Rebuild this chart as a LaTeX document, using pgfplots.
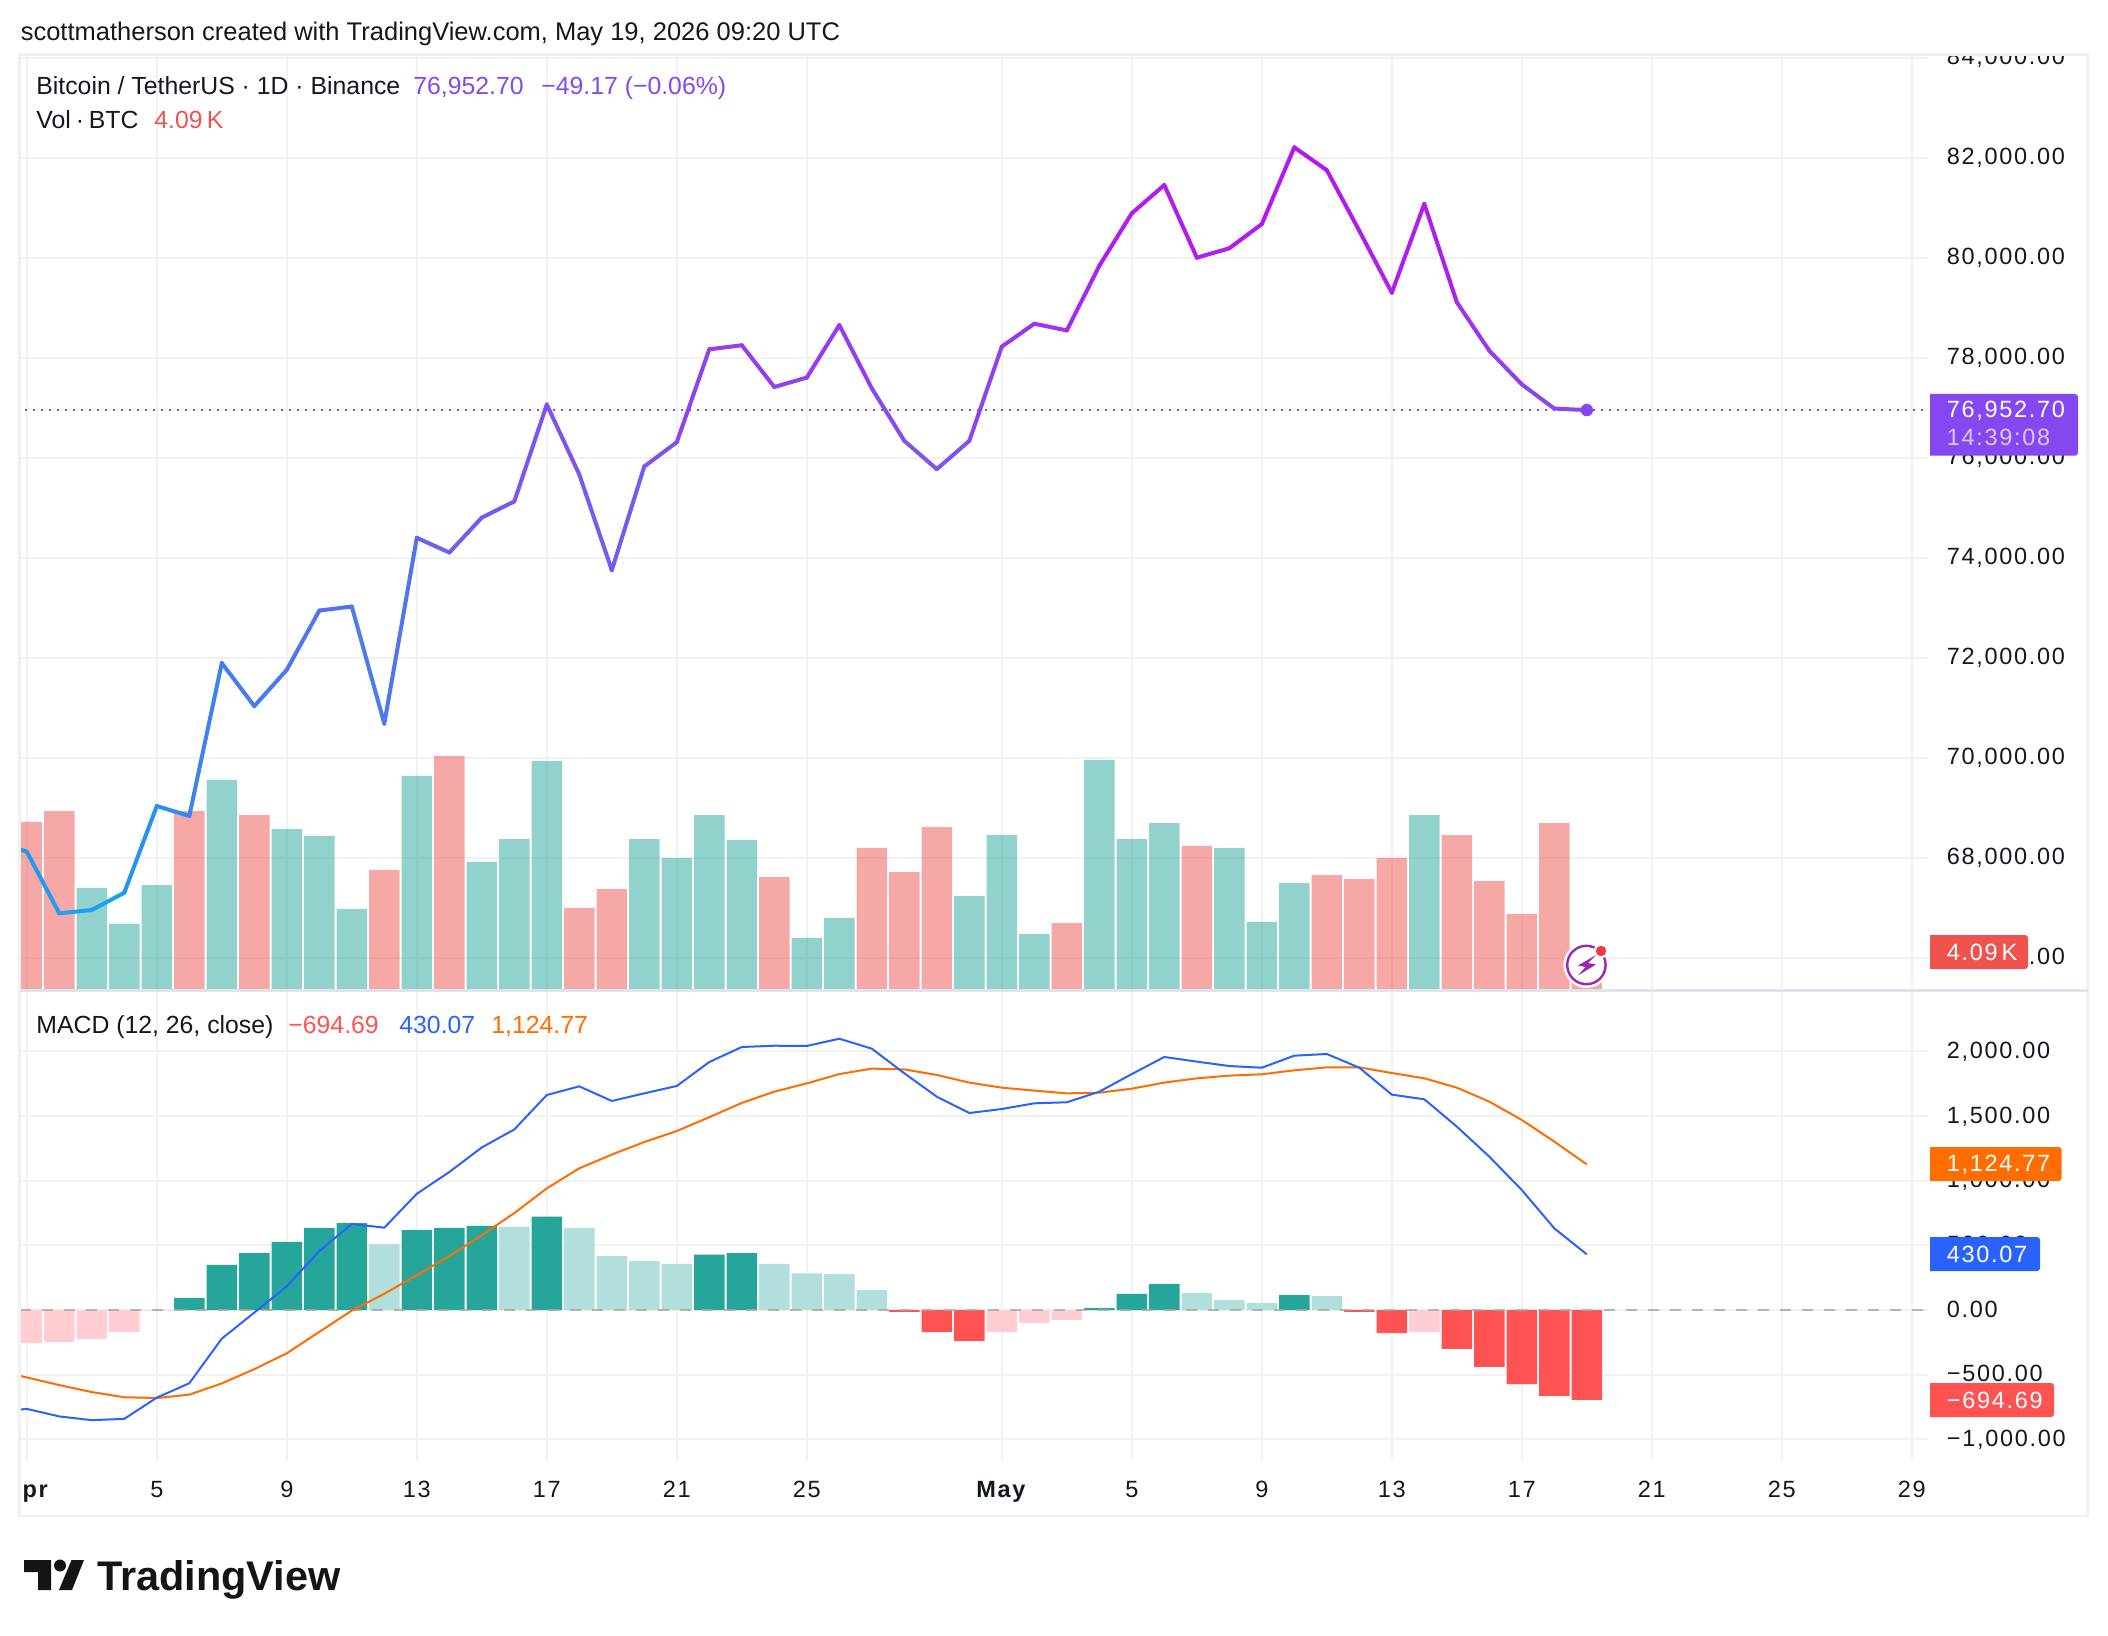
\documentclass[border=0pt]{standalone}
\usepackage{fontspec}
\setmainfont{Liberation Sans}
\newfontfamily\ax[LetterSpace=7.2]{Liberation Sans}
\usepackage{pgfplots}
\pgfplotsset{compat=1.18}
\definecolor{gridc}{HTML}{F1F1F2}
\definecolor{framec}{HTML}{F1F1F2}
\definecolor{sepc}{HTML}{E0E3EB}
\definecolor{tv}{HTML}{131722}
\definecolor{teal}{HTML}{26A69A}
\definecolor{lteal}{HTML}{B2DFDB}
\definecolor{rd}{HTML}{FF5252}
\definecolor{lrd}{HTML}{FFCDD2}
\definecolor{volr}{HTML}{EF5350}
\definecolor{mblue}{HTML}{2962FF}
\definecolor{morange}{HTML}{FF6D00}
\definecolor{endp}{HTML}{8548F0}
\definecolor{icon}{HTML}{9C27B0}
\definecolor{notif}{HTML}{F23645}
\pgfplotsset{
  paneaxis/.style={
    scale only axis, width=954pt,
    xmin=-0.2246, xmax=58.483,
    clip=true,
    scaled y ticks=false,
  },
  xticksall/.style={xtick={0,4,8,12,16,20,24,30,34,38,42,46,50,54,58}},
}
\begin{document}
\begin{tikzpicture}[x=0.5pt,y=-0.5pt]
\fill[white] (0,0) rectangle (2108,1636);
\useasboundingbox (0,0) rectangle (2108,1636);

% price pane: grid and price scale
\begin{axis}[paneaxis, at={(9.75pt,-495pt)}, anchor=south west, height=467.5pt,
  ymin=65354, ymax=84054, xticksall, xticklabels={},
  ytick={66000,68000,70000,72000,74000,76000,78000,80000,82000,84000},
  yticklabels={{66,000.00},{68,000.00},{70,000.00},{72,000.00},{74,000.00},{76,000.00},{78,000.00},{80,000.00},{82,000.00},{84,000.00}},
  yticklabel pos=right, major tick length=0pt,
  yticklabel style={anchor=base west, xshift=9.5pt, yshift=-3.6pt, inner sep=0pt, font=\ax\fontsize{11.75}{14}\selectfont, text=tv},
  grid=major, grid style={color=gridc, line width=1pt}, axis line style={draw=none}]
\end{axis}

% volume bars
\begin{axis}[paneaxis, at={(9.75pt,-495pt)}, anchor=south west, height=467.5pt,
  ymin=-0.65, ymax=607.1, hide axis]
\addplot[ybar, bar width=0.94, bar shift=0pt, draw=none, fill=volr, fill opacity=0.5] coordinates {
(0,108.6)(1,115.7)(5,115.7)(7,113.1)(11,77.4)(13,151.5)(17,52.7)(18,65)(23,72.8)
(26,91.7)(27,76)(28,105.3)(32,42.9)(36,93)(40,74.1)(41,71.5)(42,85.2)(44,100.1)(45,70.2)(46,48.8)(47,107.9)(48,4.09)};
\addplot[ybar, bar width=0.94, bar shift=0pt, draw=none, fill=teal, fill opacity=0.5] coordinates {
(2,65.7)(3,42.3)(4,67.6)(6,135.9)(8,104)(9,99.5)(10,52)(12,138.5)(14,82.6)(15,97.5)(16,148.2)
(19,97.5)(20,85.2)(21,113.1)(22,96.9)(24,33.2)(25,46.2)(29,60.5)(30,100.1)(31,35.8)(33,148.9)(34,97.5)(35,107.9)(37,91.7)(38,43.6)(39,68.9)(43,113.1)};
\end{axis}

% price line
\begin{axis}[paneaxis, at={(9.75pt,-495pt)}, anchor=south west, height=467.5pt,
  ymin=65354, ymax=84054, hide axis,
  colormap={btc}{rgb255(0)=(20,175,240) rgb255(20)=(35,150,240) rgb255(40)=(60,130,240) rgb255(60)=(75,122,240) rgb255(80)=(100,100,240) rgb255(100)=(125,85,240) rgb255(110)=(135,72,240) rgb255(120)=(150,60,240) rgb255(140)=(175,30,240) rgb255(160)=(185,20,240)},
  point meta min=66000, point meta max=82000]
\addplot[endp, line width=1pt, dash pattern=on 1pt off 3pt] coordinates {(-0.3,76952.7)(58.6,76952.7)};
\addplot[mesh, point meta=y, line width=2pt, line cap=round, line join=round] coordinates {
(-1,68330)(0,68120)(1,66888)(2,66954)(3,67300)(4,69034)(5,68834)(6,71893)(7,71031)(8,71758)(9,72943)
(10,73023)(11,70682)(12,74398)(13,74103)(14,74802)(15,75125)(16,77063)(17,75663)(18,73751)(19,75825)
(20,76310)(21,78168)(22,78249)(23,77414)(24,77603)(25,78653)(26,77387)(27,76337)(28,75771)(29,76337)
(30,78222)(31,78680)(32,78545)(33,79838)(34,80888)(35,81453)(36,80000)(37,80188)(38,80672)(39,82207)
(40,81749)(41,80537)(42,79300)(43,81076)(44,79110)(45,78140)(46,77467)(47,76982)(48,76952.7)};
\addplot[only marks, mark=*, mark size=2.9pt, color=endp] coordinates {(48,76952.7)};
\end{axis}

% MACD pane
\begin{axis}[paneaxis, at={(9.75pt,-729.8pt)}, anchor=south west, height=234.8pt,
  ymin=-1155.8, ymax=2472.4, xticksall,
  xticklabels={\textbf{Apr},5,9,13,17,21,25,\textbf{May},5,9,13,17,21,25,29},
  xticklabel style={anchor=base, yshift=-19pt, inner sep=0pt, font=\ax\fontsize{11.75}{14}\selectfont, text=tv},
  ytick={-1000,-500,0,500,1000,1500,2000},
  yticklabels={{−1,000.00},{−500.00},{0.00},{500.00},{1,000.00},{1,500.00},{2,000.00}},
  yticklabel pos=right, major tick length=0pt,
  yticklabel style={anchor=base west, xshift=9.5pt, yshift=-3.6pt, inner sep=0pt, font=\ax\fontsize{11.75}{14}\selectfont, text=tv},
  grid=major, grid style={color=gridc, line width=1pt}, axis line style={draw=none}]
\addplot[ybar, bar width=0.94, bar shift=0pt, draw=none, fill=lrd] coordinates {
(0,-255)(1,-246)(2,-223)(3,-168)(4,-5)(30,-170)(31,-100)(32,-77)(43,-170)};
\addplot[ybar, bar width=0.94, bar shift=0pt, draw=none, fill=rd] coordinates {
(27,-15)(28,-170)(29,-240)(41,-15)(42,-178)(44,-301)(45,-440)(46,-572)(47,-664)(48,-694.69)};
\addplot[ybar, bar width=0.94, bar shift=0pt, draw=none, fill=teal] coordinates {
(5,94)(6,349)(7,440)(8,527)(9,634)(10,672)(12,617)(13,634)(14,650)(16,721)(21,427)(22,440)(33,15)(34,124)(35,201)(39,116)};
\addplot[ybar, bar width=0.94, bar shift=0pt, draw=none, fill=lteal] coordinates {
(11,511)(15,643)(17,634)(18,417)(19,378)(20,356)(23,356)(24,283)(25,278)(26,155)(36,131)(37,77)(38,54)(40,108)};
\addplot[color=black!35, opacity=0.8, line width=0.8pt, dash pattern=on 5.5pt off 5.5pt] coordinates {(-0.2246,0)(58.483,0)};
\addplot[morange, line width=1pt, line join=round] coordinates {
(-1,-465)(0,-521)(1,-580)(2,-634)(3,-674)(4,-680)(5,-654)(6,-567)(7,-457)(8,-334)(9,-169)
(10,-4)(11,125)(12,270)(13,416)(14,578)(15,749)(16,940)(17,1095)(18,1201)(19,1298)
(20,1383)(21,1490)(22,1600)(23,1687)(24,1751)(25,1823)(26,1865)(27,1859)(28,1816)(29,1757)
(30,1718)(31,1695)(32,1674)(33,1679)(34,1710)(35,1757)(36,1790)(37,1811)(38,1821)(39,1852)
(40,1875)(41,1875)(42,1831)(43,1790)(44,1718)(45,1610)(46,1468)(47,1301)(48,1124.77)};
\addplot[mblue, line width=1pt, line join=round] coordinates {
(-1,-790)(0,-764)(1,-822)(2,-851)(3,-841)(4,-677)(5,-566)(6,-221)(7,-20)(8,183)(9,455)
(10,665)(11,636)(12,898)(13,1066)(14,1256)(15,1395)(16,1661)(17,1728)(18,1615)(19,1674)
(20,1731)(21,1916)(22,2032)(23,2042)(24,2040)(25,2096)(26,2019)(27,1829)(28,1648)(29,1522)
(30,1553)(31,1597)(32,1605)(33,1687)(34,1823)(35,1955)(36,1919)(37,1885)(38,1872)(39,1965)
(40,1978)(41,1872)(42,1664)(43,1628)(44,1417)(45,1185)(46,927)(47,631)(48,430.07)};
\end{axis}

% covers and frame
\fill[white] (1930,30) rectangle (2108,53.5);
\fill[white] (0,1470) rectangle (18.5,1510);
\draw[framec, line width=1.25pt] (19.5,54.5) rectangle (2087.5,1516);
\draw[sepc, line width=1.5pt] (19.5,990.7) -- (2087.5,990.7);

% header and legends
\tikzset{t/.style={anchor=base west, inner sep=0pt, font=\fontsize{12.4}{15}\selectfont, text=tv}}
\node[t, font=\fontsize{12.75}{15}\selectfont] at (20.4,41) {scottmatherson created with TradingView.com, May 19, 2026 09:20 UTC};
\node[t] at (36,95) {Bitcoin / TetherUS · 1D · Binance};
\node[t, text=endp] at (413,95) {76,952.70};
\node[t, text=endp] at (541,95) {−49.17 (−0.06\%)};
\node[t] at (36,129) {Vol\kern-1pt\ ·\kern-1pt\ BTC};
\node[t, text=volr] at (154,129) {4.09\,K};
\node[t] at (36,1033) {MACD (12, 26, close)};
\node[t, text=rd] at (288,1033) {−694.69};
\node[t, text=mblue] at (399,1033) {430.07};
\node[t, text=morange] at (491,1033) {1,124.77};

% last-value badges
\newcommand\badge[4]{\fill[#4] (1930,#2) [rounded corners=1.5pt] -- (#1,#2) -- (#1,#3) [sharp corners] -- (1930,#3) -- cycle;}
\tikzset{b/.style={anchor=base west, inner sep=0pt, font=\ax\fontsize{11.75}{14}\selectfont, text=white}}
\badge{2078}{394}{455.7}{endp}
\node[b] at (1946.5,417.8) {76,952.70};
\node[b, text=white!70!endp] at (1946.5,446) {14:39:08};
\badge{2028}{935}{969}{volr}
\node[b] at (1946.5,960) {4.09\,K};
\badge{2061.6}{1147}{1181}{morange}
\node[b] at (1946.5,1171.5) {1,124.77};
\badge{2040}{1237}{1271}{mblue}
\node[b] at (1946.5,1262) {430.07};
\badge{2054}{1383}{1417}{rd}
\node[b] at (1946.5,1408) {−694.69};

% lightning icon
\fill[white] (1586.4,965) circle (11.5pt);
\draw[icon, line width=1.2pt] (1586.4,965) circle (9.6pt);
\fill[icon] (1596,955) -- (1578,965.5) -- (1585.5,967) -- (1578,975.5) -- (1596,964.5) -- (1588,963) -- cycle;
\fill[white] (1601,951) circle (3.6pt);
\fill[notif] (1601,951) circle (2.6pt);

% TradingView logo
\fill[black!92] (24,1560) -- (51,1560) -- (51,1590) -- (38,1590) -- (38,1572) -- (24,1572) -- cycle;
\fill[black!92] (60,1565.5) circle (3pt);
\fill[black!92] (71.5,1560) -- (84,1560) -- (72,1590) -- (59,1590) -- cycle;
\node[anchor=base west, inner sep=0pt, text=black!92, font=\bfseries\fontsize{20.7}{24}\selectfont] at (97,1590) {TradingView};
\end{tikzpicture}
\end{document}
